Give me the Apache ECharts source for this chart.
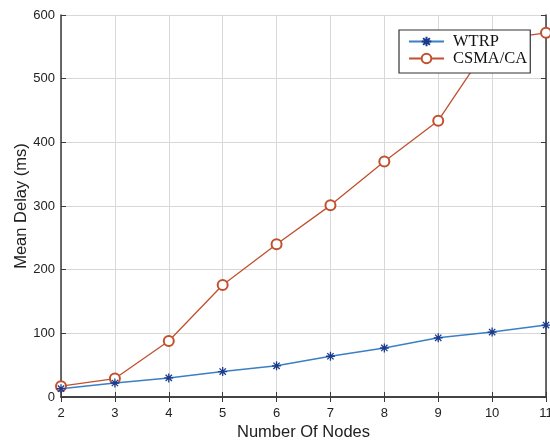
<!DOCTYPE html>
<html>
<head>
<meta charset="utf-8">
<script src="https://cdn.jsdelivr.net/npm/echarts@6/dist/echarts.min.js"></script>
<style>
  html, body { margin: 0; padding: 0; background: #fff; }
  #chart { width: 550px; height: 447px; }
</style>
</head>
<body>
<div id="chart"></div>
<script>
// Number of nodes on the x axis
const nodes = [2, 3, 4, 5, 6, 7, 8, 9, 10, 11];
// Mean delay (ms) per protocol
const wtrpDelay = [13, 22, 30, 40, 49, 64, 77, 93, 102, 113];
const csmaDelay = [17, 29, 88, 176, 240, 301, 370, 434, 560, 572];
const yTicks = [0, 100, 200, 300, 400, 500, 600];
const xTicks = nodes;

const pairs = (xs, ys) => xs.map((x, i) => [x, ys[i]]);

// asterisk marker drawn as open strokes
const starPath = 'path://M0,-5L0,5M-5,0L5,0M-3.5,-3.5L3.5,3.5M-3.5,3.5L3.5,-3.5';

const frame = '#3a3a3a';
const gridCol = '#d8d8d8';
const sans = 'Liberation Sans, Arial, sans-serif';

const xBase = {
  type: 'value',
  min: xTicks[0], max: xTicks[xTicks.length - 1], interval: 1,
  axisLine: { show: true, lineStyle: { color: frame, width: 1.5 } },
  axisTick: { show: true, inside: true, length: 5, lineStyle: { color: frame } }
};
const yBase = {
  type: 'value',
  min: yTicks[0], max: yTicks[yTicks.length - 1], interval: 100,
  axisLine: { show: true, lineStyle: { color: frame, width: 1.5 } },
  axisTick: { show: true, inside: true, length: 5, lineStyle: { color: frame } }
};

const chart = echarts.init(document.getElementById('chart'), null, { renderer: 'canvas' });
chart.setOption({
  animation: false,
  backgroundColor: '#fff',
  grid: { left: 61, right: 4, top: 15, bottom: 50, show: false, containLabel: false, outerBoundsMode: 'none' },
  legend: {
    left: 399, top: 30, orient: 'vertical',
    padding: [3, 3, 6, 9],
    itemGap: 0,
    itemWidth: 35, itemHeight: 12,
    backgroundColor: '#fff',
    borderColor: '#333', borderWidth: 1.2,
    textStyle: {
      fontFamily: 'Liberation Serif, Times New Roman, serif', fontSize: 16.5,
      lineHeight: 15, color: '#111', padding: [0, 0, 0, 4]
    },
    data: ['WTRP', 'CSMA/CA']
  },
  xAxis: [
    Object.assign({}, xBase, {
      position: 'bottom',
      name: 'Number Of Nodes', nameLocation: 'middle', nameGap: 27, nameMoveOverlap: false,
      nameTextStyle: { fontFamily: sans, fontSize: 16.5, color: '#222' },
      axisLabel: { fontFamily: sans, fontSize: 13, color: '#222', margin: 10 },
      splitLine: { show: true, lineStyle: { color: gridCol, width: 1 } }
    }),
    Object.assign({}, xBase, {
      position: 'top',
      axisLabel: { show: false },
      splitLine: { show: false }
    })
  ],
  yAxis: [
    Object.assign({}, yBase, {
      position: 'left',
      name: 'Mean Delay (ms)', nameLocation: 'middle', nameGap: 31, nameMoveOverlap: false,
      nameTextStyle: { fontFamily: sans, fontSize: 16.5, color: '#222' },
      axisLabel: { fontFamily: sans, fontSize: 13, color: '#222', margin: 6 },
      splitLine: { show: true, lineStyle: { color: gridCol, width: 1 } }
    }),
    Object.assign({}, yBase, {
      position: 'right',
      axisLabel: { show: false },
      splitLine: { show: false }
    })
  ],
  series: [
    {
      name: 'WTRP', type: 'line',
      data: pairs(nodes, wtrpDelay),
      symbol: starPath, symbolSize: 9,
      lineStyle: { color: '#3b7fc4', width: 1.5 },
      itemStyle: { color: 'none', borderColor: '#1a3a8c', borderWidth: 1.3 },
      z: 3
    },
    {
      name: 'CSMA/CA', type: 'line',
      data: pairs(nodes, csmaDelay),
      symbol: 'emptyCircle', symbolSize: 10,
      lineStyle: { color: '#c1502e', width: 1.3 },
      itemStyle: { color: '#c1502e', borderColor: '#c1502e', borderWidth: 1.2 },
      z: 2
    }
  ]
});
</script>
</body>
</html>
